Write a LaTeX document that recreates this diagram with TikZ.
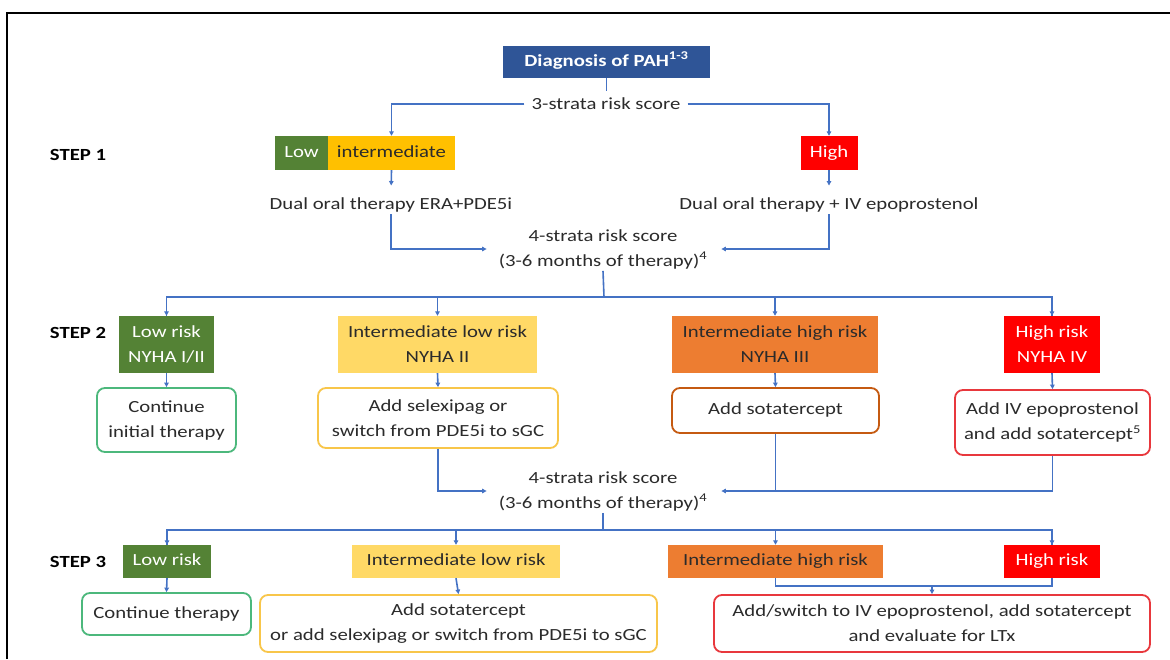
\documentclass[tikz,border=0pt]{standalone}
\usepackage{fontspec}
\setmainfont{Carlito}[FakeStretch=1.22]
\usetikzlibrary{arrows.meta}
\definecolor{dblue}{HTML}{2F5597}
\definecolor{lblue}{HTML}{4472C4}
\definecolor{pgreen}{HTML}{548235}
\definecolor{pgold}{HTML}{FFC000}
\definecolor{pyel}{HTML}{FFD966}
\definecolor{porange}{HTML}{ED7D31}
\definecolor{pred}{HTML}{FF0000}
\definecolor{bgreen}{HTML}{4CB87C}
\definecolor{byel}{HTML}{F8C64A}
\definecolor{bbrown}{HTML}{C55A11}
\definecolor{bred}{HTML}{E8383D}
\definecolor{txt}{HTML}{2B2B2B}
\begin{document}
\begin{tikzpicture}[x=1pt,y=-1pt,
  every node/.style={font=\fontsize{17}{25}\selectfont, text=txt, inner sep=2pt, align=center},
  riskbox/.style={rectangle, inner sep=0pt},
  oneline/.style={text height=12pt, text depth=4pt},
  actbox/.style={rectangle, rounded corners=8pt, draw, line width=1.8pt, fill=white, inner sep=0pt},
  steplabel/.style={font=\fontsize{17}{25}\selectfont\bfseries, text=black},
  conn/.style={draw=lblue, line width=1.6pt},
  arr/.style={conn, -{Triangle[length=4.5pt,width=4.5pt]}}]
\useasboundingbox (0,0) rectangle (1170,659);
\fill[white] (0,0) rectangle (1170,659);
\draw[line width=2pt, black] (7,659) -- (7,13) -- (1170,13);

% top
\node[riskbox, oneline, fill=dblue, text=white, font=\fontsize{17}{25}\selectfont\bfseries, minimum width=207, minimum height=32] (diag) at (606.5,62) {Diagnosis of PAH\textsuperscript{1-3}};
\node[inner sep=7pt] (s3) at (606,104) {3-strata risk score};

% step 1
\node[steplabel] (st1) at (78,155) {STEP 1};
\node[riskbox, oneline, fill=pgreen, text=white, minimum width=53, minimum height=34] (lowA) at (301.5,153) {Low};
\node[riskbox, oneline, fill=pgold, minimum width=127, minimum height=34] (intA) at (391.5,153) {intermediate};
\node[riskbox, oneline, fill=pred, text=white, minimum width=57, minimum height=34] (highA) at (829,153) {High};
\node (dualA) at (391,205) {Dual oral therapy ERA+PDE5i};
\node (dualB) at (829,205) {Dual oral therapy + IV epoprostenol};
\node (four1) at (603,249) {4-strata risk score\\(3-6 months of therapy)\textsuperscript{4}};
\coordinate (bus1) at (604,297);

% step 2
\node[steplabel] (st2) at (78,333) {STEP 2};
\node[riskbox, fill=pgreen, text=white, minimum width=95, minimum height=57] (lowB) at (166.5,344.5) {Low risk\\NYHA I/II};
\node[riskbox, fill=pyel, minimum width=199, minimum height=57] (intlowB) at (437.5,344.5) {Intermediate low risk\\NYHA II};
\node[riskbox, fill=porange, minimum width=206, minimum height=57] (inthighB) at (775,344.5) {Intermediate high risk\\NYHA III};
\node[riskbox, fill=pred, text=white, minimum width=96, minimum height=57] (highB) at (1052,344.5) {High risk\\NYHA IV};

\node[actbox, draw=bgreen, minimum width=139, minimum height=64] (contB) at (166.5,420) {Continue\\initial therapy};
\node[actbox, draw=byel, minimum width=240, minimum height=60] (selB) at (438,418) {Add selexipag or\\switch from PDE5i to sGC};
\node[actbox, oneline, draw=bbrown, minimum width=207, minimum height=45] (sotB) at (775.5,410.5) {Add sotatercept};
\node[actbox, draw=bred, minimum width=195, minimum height=65] (ivB) at (1052.5,422.5) {Add IV epoprostenol\\and add sotatercept\textsuperscript{5}};

\node (four2) at (603,491) {4-strata risk score\\(3-6 months of therapy)\textsuperscript{4}};
\coordinate (bus2) at (603,530);

% step 3
\node[steplabel] (st3) at (78,562) {STEP 3};
\node[riskbox, oneline, fill=pgreen, text=white, minimum width=88, minimum height=33] (lowC) at (167,561.5) {Low risk};
\node[riskbox, oneline, fill=pyel, minimum width=208, minimum height=33] (intlowC) at (456,561.5) {Intermediate low risk};
\node[riskbox, oneline, fill=porange, minimum width=215, minimum height=33] (inthighC) at (775.5,561.5) {Intermediate high risk};
\node[riskbox, oneline, fill=pred, text=white, minimum width=96, minimum height=33] (highC) at (1052,561.5) {High risk};

\node[actbox, oneline, draw=bgreen, minimum width=169, minimum height=42] (contC) at (166.5,614) {Continue therapy};
\node[actbox, draw=byel, minimum width=397, minimum height=57] (selC) at (458.5,623.5) {Add sotatercept\\or add selexipag or switch from PDE5i to sGC};
\node[actbox, draw=bred, minimum width=436, minimum height=57] (ivC) at (932,623.5) {Add/switch to IV epoprostenol, add sotatercept\\and evaluate for LTx};
\coordinate (j3) at (932,586);

% connectors top
\draw[conn] (diag.south) -- (diag.south |- s3.north);
\draw[arr] (s3.west) -| (intA.north);
\draw[arr] (s3.east) -| (highA.north);
\draw[arr, shorten >=10pt] (intA.south) -- (dualA.north);
\draw[arr, shorten >=10pt] (highA.south) -- (dualB.north);
\draw[arr, shorten >=10pt] (dualA.south) |- (four1.west);
\draw[arr, shorten >=12pt] (dualB.south) |- (four1.east);
\draw[conn] (four1.south) -- (bus1);
\draw[conn] (bus1) -| (lowB.north);
\draw[conn] (bus1) -| (highB.north);
\draw[arr] (lowB.north |- bus1) -- (lowB.north);
\draw[arr] (intlowB.north |- bus1) -- (intlowB.north);
\draw[arr] (inthighB.north |- bus1) -- (inthighB.north);
\draw[arr] (highB.north |- bus1) -- (highB.north);

% step 2 connectors
\draw[arr] (lowB.south) -- (contB.north);
\draw[arr] (intlowB.south) -- (selB.north);
\draw[arr] (inthighB.south) -- (sotB.north);
\draw[arr] (highB.south) -- (ivB.north);
\draw[arr, shorten >=10pt] (selB.south) |- (four2.west);
\draw[arr, shorten >=12pt] (ivB.south) |- (four2.east);
\draw[conn] (sotB.south) -- (sotB.south |- four2.east);
\draw[conn] (four2.south) -- (bus2);
\draw[conn] (bus2) -| (lowC.north);
\draw[conn] (bus2) -| (highC.north);
\draw[arr] (lowC.north |- bus2) -- (lowC.north);
\draw[arr] (intlowC.north |- bus2) -- (intlowC.north);
\draw[arr] (inthighC.north |- bus2) -- (inthighC.north);
\draw[arr] (highC.north |- bus2) -- (highC.north);

% step 3 connectors
\draw[arr] (lowC.south) -- (contC.north);
\draw[arr] (intlowC.south) -- (selC.north);
\draw[conn] (inthighC.south) |- (j3) -| (highC.south);
\draw[arr] (j3) -- (ivC.north);
\end{tikzpicture}
\end{document}
